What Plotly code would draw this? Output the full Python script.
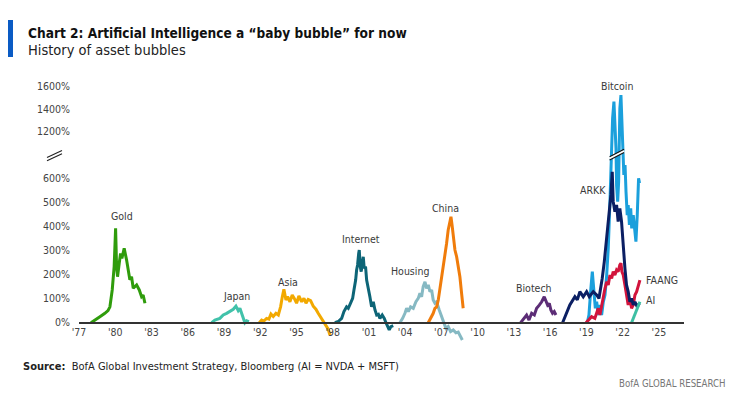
import plotly.graph_objects as go

# ---------------- data (year, % gain) ----------------
gold_x = [1977.99, 1978.4, 1978.73, 1979.14, 1979.4, 1979.56, 1979.75, 1979.91, 1980.03, 1980.11, 1980.19, 1980.33, 1980.44, 1980.55, 1980.74, 1980.94, 1981.07, 1981.21, 1981.35, 1981.49, 1981.77, 1981.99, 1982.18, 1982.31, 1982.46]
gold_y = [0, 12, 25, 39, 50, 66, 136, 233, 392, 233, 191, 247, 288, 267, 309, 260, 212, 178, 191, 143, 157, 136, 108, 115, 81]

japan_x = [1987.98, 1988.25, 1988.66, 1988.94, 1989.22, 1989.49, 1989.77, 1989.99, 1990.18, 1990.32, 1990.54, 1990.65, 1990.73, 1990.87, 1991.06]
japan_y = [0, 11, 18, 32, 39, 46, 56, 69, 50, 60, 32, 11, 0, 8, 4]

asia_x = [1991.92, 1992.12, 1992.3, 1992.53, 1992.72, 1992.89, 1993.08, 1993.3, 1993.5, 1993.69, 1993.83, 1993.96, 1994.13, 1994.27, 1994.46, 1994.65, 1994.82, 1995.01, 1995.2, 1995.43, 1995.62, 1995.79, 1995.97, 1996.17, 1996.39, 1996.61, 1996.8, 1997.0, 1997.22, 1997.44, 1997.63, 1997.77]
asia_y = [0, 11, 7, 18, 15, 36, 26, 39, 32, 67, 108, 139, 94, 108, 87, 115, 101, 81, 111, 87, 101, 81, 97, 92, 69, 56, 39, 22, 4, -10, -27, -51]

internet_x = [1998.18, 1998.46, 1998.74, 1998.93, 1999.15, 1999.29, 1999.48, 1999.65, 1999.76, 1999.9, 1999.98, 2000.06, 2000.15, 2000.2, 2000.28, 2000.36, 2000.45, 2000.53, 2000.61, 2000.72, 2000.81, 2000.94, 2001.08, 2001.22, 2001.36, 2001.5, 2001.64, 2001.78, 2001.91, 2002.1, 2002.27, 2002.41, 2002.55, 2002.68, 2002.82, 2003.01]
internet_y = [0, 5, 18, 46, 66, 60, 81, 101, 136, 177, 219, 240, 288, 302, 233, 212, 247, 274, 226, 233, 177, 150, 108, 66, 87, 53, 32, 35, 18, 32, 18, 0, -16, -30, -16, -12]

housing_x = [2003.56, 2003.79, 2003.98, 2004.12, 2004.26, 2004.45, 2004.67, 2004.89, 2005.08, 2005.22, 2005.36, 2005.49, 2005.64, 2005.77, 2005.91, 2006.05, 2006.19, 2006.32, 2006.46, 2006.6, 2006.82, 2007.02, 2007.15, 2007.37, 2007.56, 2007.76, 2007.98, 2008.2, 2008.39, 2008.59, 2008.73]
housing_y = [0, 18, 39, 60, 46, 66, 60, 87, 101, 122, 108, 150, 170, 143, 157, 129, 136, 94, 81, 87, 53, 25, 0, -23, -16, -37, -30, -42, -39, -58, -72]

china_x = [2005.91, 2006.13, 2006.32, 2006.46, 2006.6, 2006.74, 2006.87, 2007.01, 2007.15, 2007.29, 2007.43, 2007.56, 2007.7, 2007.79, 2007.88, 2007.98, 2008.12, 2008.26, 2008.39, 2008.53, 2008.67, 2008.8]
china_y = [0, 18, 39, 60, 66, 94, 136, 177, 233, 281, 330, 385, 427, 440, 406, 357, 302, 274, 233, 191, 122, 60]

biotech_x = [2013.56, 2013.83, 2014.05, 2014.25, 2014.47, 2014.69, 2014.88, 2015.1, 2015.3, 2015.51, 2015.65, 2015.79, 2015.93, 2016.06, 2016.2, 2016.34, 2016.48]
biotech_y = [0, 18, 32, 11, 39, 32, 60, 73, 87, 108, 87, 73, 80, 53, 39, 46, 32]

arkk_x = [2017.03, 2017.3, 2017.63, 2018.05, 2018.25, 2018.46, 2018.74, 2019.02, 2019.24, 2019.57, 2019.85, 2020.04, 2020.18, 2020.31, 2020.48, 2020.62, 2020.76, 2020.89, 2021.03, 2021.14, 2021.22, 2021.36, 2021.5, 2021.63, 2021.77, 2021.91, 2022.05, 2022.19, 2022.32, 2022.46, 2022.6, 2022.74, 2022.88, 2023.02, 2023.21, 2023.38]
arkk_y = [0, 35, 74, 108, 95, 129, 108, 129, 108, 129, 115, 101, 143, 184, 253, 323, 378, 447, 531, 627, 503, 461, 489, 420, 475, 420, 309, 226, 157, 129, 87, 101, 74, 87, 66, 80]

bitcoin_x = [2019.07, 2019.21, 2019.35, 2019.49, 2019.56, 2019.65, 2019.74, 2019.85, 2019.98, 2020.12, 2020.26, 2020.4, 2020.54, 2020.68, 2020.81, 2020.95, 2021.17, 2021.28, 2021.36, 2021.45, 2021.5, 2021.59, 2021.67, 2021.77, 2021.86, 2021.94, 2022.0, 2022.1, 2022.2, 2022.28, 2022.38, 2022.46, 2022.56, 2022.67, 2022.75, 2022.88, 2023.02, 2023.1, 2023.21, 2023.32, 2023.4]
bitcoin_y = [0, 32, 129, 212, 170, 129, 60, 87, 32, 74, 32, 87, 115, 198, 309, 503, 1319, 1467, 1260, 1052, 570, 503, 586, 1408, 1526, 1348, 1111, 614, 655, 544, 447, 489, 406, 475, 392, 447, 364, 337, 447, 600, 580]

faang_x = [2018.97, 2019.2, 2019.43, 2019.7, 2019.85, 2019.98, 2020.12, 2020.26, 2020.4, 2020.54, 2020.68, 2020.81, 2020.95, 2021.09, 2021.22, 2021.36, 2021.5, 2021.63, 2021.77, 2021.86, 2021.94, 2022.05, 2022.19, 2022.32, 2022.46, 2022.6, 2022.74, 2022.88, 2023.02, 2023.16, 2023.29, 2023.43]
faang_y = [0, 11, 25, 18, 39, 60, 32, 74, 115, 143, 170, 157, 198, 184, 212, 198, 219, 212, 240, 247, 212, 198, 157, 115, 74, 101, 60, 74, 115, 129, 157, 177]

ai_x = [2022.74, 2022.88, 2023.02, 2023.16, 2023.29, 2023.43]
ai_y = [0, 18, 39, 60, 74, 87]

x_tick_years = [1977, 1980, 1983, 1986, 1989, 1992, 1995, 1998, 2001, 2004, 2007, 2010, 2013, 2016, 2019, 2022, 2025]
x_tick_text = ["'77", "'80", "'83", "'86", "'89", "'92", "'95", "'98", "'01", "'04", "'07", "'10", "'13", "'16", "'19", "'22", "'25"]
y_tick_values = [0, 100, 200, 300, 400, 500, 600, 1200, 1400, 1600]
y_tick_text = ["0%", "100%", "200%", "300%", "400%", "500%", "600%", "1200%", "1400%", "1600%"]


# broken axis: linear up to ~705%, compressed above ~1010%
def brk(v):
    if v <= 705:
        return v
    if v >= 1010:
        return 793.5 + (v - 1200) * 0.4674
    return 705 + (v - 705) / (1010 - 705) * 0.3


series = [
    ("Gold", gold_x, gold_y, "#2f9c0c"),
    ("Japan", japan_x, japan_y, "#41c2aa"),
    ("Asia", asia_x, asia_y, "#f2a900"),
    ("Internet", internet_x, internet_y, "#0d6577"),
    ("Housing", housing_x, housing_y, "#86b9c3"),
    ("China", china_x, china_y, "#f07c0b"),
    ("Biotech", biotech_x, biotech_y, "#5c2d76"),
    ("Bitcoin", bitcoin_x, bitcoin_y, "#1ba0dc"),
    ("FAANG", faang_x, faang_y, "#d2143c"),
    ("ARKK", arkk_x, arkk_y, "#0b1f63"),
    ("AI", ai_x, ai_y, "#3dbfa3"),
]

FONT = "DejaVu Sans Condensed, Liberation Sans Narrow, sans-serif"

fig = go.Figure()
for name, xs, ys, col in series:
    fig.add_trace(go.Scatter(x=xs, y=[brk(v) for v in ys], mode="lines", name=name,
                             line=dict(color=col, width=3), hoverinfo="skip"))

labels = [
    ("Gold", 1980.55, 443, "center"),
    ("Japan", 1990.0, 111, "center"),
    ("Asia", 1994.3, 170, "center"),
    ("Internet", 2000.33, 346, "center"),
    ("Housing", 2004.37, 216, "center"),
    ("China", 2007.3, 475, "center"),
    ("Biotech", 2014.66, 143, "center"),
    ("ARKK", 2019.57, 551, "center"),
    ("Bitcoin", 2021.57, 1606, "center"),
    ("FAANG", 2023.77, 177, "left"),
    ("AI", 2023.77, 94, "left"),
]
for txt, lx, ly, al in labels:
    fig.add_annotation(x=lx, y=brk(ly), text=txt, showarrow=False, xanchor=al,
                       yanchor="middle", font=dict(family=FONT, size=10.5, color="#3a3a3a"))

# break markers
Y0 = 322.7
PX = 0.2407
def d_of_px(py):
    return (Y0 - py) / PX

for dy in (0, 3.2):
    fig.add_shape(type="line", xref="paper", yref="y",
                  x0=(47 - 79) / 605, x1=(62 - 79) / 605,
                  y0=d_of_px(157.5 + dy), y1=d_of_px(150.5 + dy),
                  line=dict(color="#222", width=1.2))
# break on Bitcoin line
fig.add_shape(type="line", xref="x", yref="y", x0=2020.92, x1=2022.12,
              y0=d_of_px(158.5), y1=d_of_px(151), line=dict(color="white", width=3), layer="above")
for dy in (0, 3.2):
    fig.add_shape(type="line", xref="x", yref="y", x0=2020.92, x1=2022.12,
                  y0=d_of_px(156.8 + dy), y1=d_of_px(149.3 + dy),
                  line=dict(color="#111", width=1.1), layer="above")

# title block
fig.add_shape(type="rect", xref="paper", yref="paper",
              x0=(8 - 79) / 605, x1=(13 - 79) / 605,
              y0=(343 - 57) / 268, y1=(343 - 20) / 268,
              fillcolor="#0a5bc4", line=dict(width=0))
fig.add_annotation(xref="paper", yref="paper", x=(26 - 79) / 605, y=(343 - 33) / 268,
                   text="<b>Chart 2: Artificial Intelligence a \u201cbaby bubble\u201d for now</b>",
                   showarrow=False, xanchor="left", yanchor="middle",
                   font=dict(family=FONT, size=13.6, color="#111"))
fig.add_annotation(xref="paper", yref="paper", x=(26 - 79) / 605, y=(343 - 50) / 268,
                   text="History of asset bubbles", showarrow=False, xanchor="left", yanchor="middle",
                   font=dict(family=FONT, size=14.5, color="#222"))
fig.add_annotation(xref="paper", yref="paper", x=(21 - 79) / 605, y=(343 - 366) / 268,
                   text="<b>Source:</b>  BofA Global Investment Strategy, Bloomberg (AI = NVDA + MSFT)",
                   showarrow=False, xanchor="left", yanchor="middle",
                   font=dict(family=FONT, size=11, color="#222"))
fig.add_annotation(xref="paper", yref="paper", x=(728 - 79) / 605, y=(343 - 383) / 268,
                   text="BofA GLOBAL RESEARCH", showarrow=False, xanchor="right", yanchor="middle",
                   font=dict(family=FONT, size=9.6, color="#777"))

fig.update_layout(
    width=740, height=397,
    margin=dict(l=79, r=56, t=75, b=54, autoexpand=False),
    paper_bgcolor="white", plot_bgcolor="white",
    showlegend=False,
    font=dict(family=FONT, size=10.5, color="#444"),
    xaxis=dict(range=[1977, 2027.08], tickvals=x_tick_years, ticktext=x_tick_text,
               showgrid=False, zeroline=False, showline=True, linecolor="#333", linewidth=1.5,
               anchor="free", position=(343 - 322.7) / 268, ticks="", tickfont=dict(size=10.5, color="#444")),
    yaxis=dict(range=[-84.3, 1029.1], tickvals=[brk(v) for v in y_tick_values], ticktext=y_tick_text,
               showgrid=False, zeroline=False, showline=False, ticks="outside", ticklen=6,
               tickcolor="rgba(0,0,0,0)", tickfont=dict(size=10.5, color="#444")),
)

fig.write_html("out.html", config={"displayModeBar": False},
               post_script="document.body.style.margin='0px';document.body.style.overflow='hidden';")
